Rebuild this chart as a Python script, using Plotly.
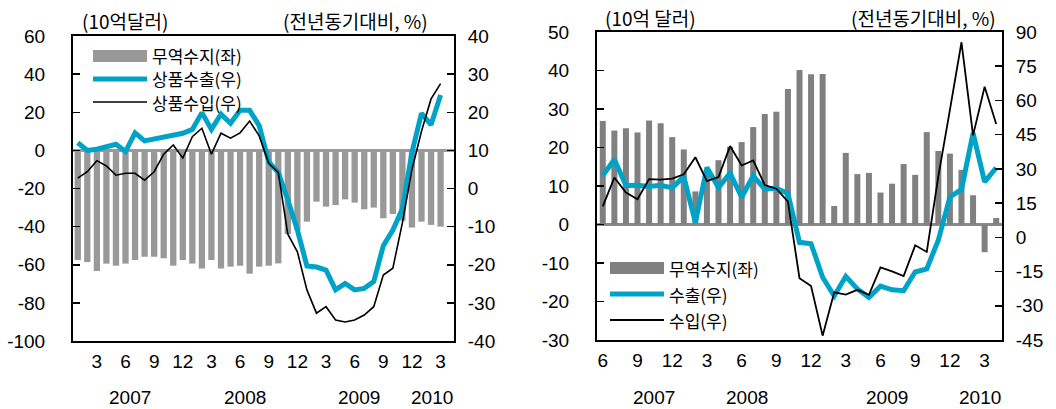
import plotly.graph_objects as go

# The page body margin is removed after plotting (post_script), so the figure fills the window.
OFF = 0
W, H = 1056 - OFF, 409 - OFF

# ---------------- Left panel data (Jan 2007 - Mar 2010) ----------------
us_periods = [f"{y}-{m:02d}" for y in (2007, 2008, 2009, 2010) for m in range(1, 13)][:39]
us_balance = [-57.5, -58.6, -63.3, -59.4, -60.5, -59.4, -57.5, -55.8, -55.8, -56.6,
              -60.5, -57.5, -59.4, -62.0, -57.5, -62.0, -61.0, -60.5, -64.7, -61.0,
              -60.5, -59.3, -43.9, -41.8, -37.4, -26.9, -29.5, -28.7, -25.7, -27.4,
              -30.9, -30.0, -35.6, -33.4, -36.9, -40.5, -37.4, -39.1, -40.0]
us_exports = [12.0, 10.0, 10.3, 11.0, 11.6, 9.7, 14.6, 12.5, 13.0, 13.4,
              13.8, 14.5, 15.5, 19.9, 15.5, 19.5, 17.1, 20.5, 20.5, 16.5,
              7.0, 4.2, -3.0, -10.9, -20.3, -20.6, -21.4, -26.6, -24.9, -26.6,
              -26.2, -24.4, -15.0, -10.9, -5.3, 9.5, 19.7, 16.7, 24.5]
us_imports = [2.7, 4.4, 7.3, 5.9, 3.5, 4.0, 4.0, 2.2, 4.4, 9.0,
              11.4, 8.0, 13.6, 15.8, 9.0, 14.5, 13.2, 14.6, 17.7, 13.8,
              6.6, 4.2, -12.0, -16.6, -26.6, -32.7, -31.0, -34.5, -35.0, -34.5,
              -33.2, -31.0, -22.7, -20.9, -9.0, 5.0, 15.0, 23.5, 27.5]
us_tick_cats = ["2007-03", "2007-06", "2007-09", "2007-12", "2008-03", "2008-06", "2008-09",
                "2008-12", "2009-03", "2009-06", "2009-09", "2009-12", "2010-03"]
us_tick_text = ["3", "6", "9", "12", "3", "6", "9", "12", "3", "6", "9", "12", "3"]
us_years = ["2007", "2008", "2009", "2010"]
us_left_ticks = [60, 40, 20, 0, -20, -40, -60, -80, -100]
us_right_ticks = [40, 30, 20, 10, 0, -10, -20, -30, -40]

# ---------------- Right panel data (Jun 2007 - Apr 2010) ----------------
cn_periods = [f"{y}-{m:02d}" for y in (2007, 2008, 2009, 2010) for m in range(1, 13)][5:40]
cn_balance = [26.9, 24.4, 25.0, 23.9, 27.0, 26.3, 22.7,
              19.5, 8.6, 13.4, 16.7, 20.2, 21.4, 25.3, 28.7, 29.3, 35.2, 40.1, 39.0,
              39.1, 4.8, 18.6, 13.1, 13.4, 8.3, 10.6, 15.7, 12.9, 24.0, 19.1, 18.4,
              14.2, 7.6, -7.2, 1.7]
cn_exports = [27.1, 34.1, 22.7, 22.8, 22.3, 22.8, 21.7,
              26.6, 6.5, 30.6, 21.8, 28.1, 17.6, 26.9, 21.1, 21.5, 19.2, -2.2, -2.8,
              -17.5, -25.7, -17.1, -22.6, -26.4, -21.4, -23.0, -23.4, -15.2, -13.8, -1.2, 17.7,
              21.0, 45.7, 24.3, 30.5]
cn_imports = [13.6, 26.2, 19.6, 16.7, 25.5, 25.3, 25.7,
              27.6, 35.1, 24.6, 26.4, 40.0, 31.5, 33.7, 22.9, 21.3, 15.6, -17.9, -21.3,
              -43.1, -24.1, -25.1, -23.0, -25.2, -13.2, -14.9, -17.0, -3.5, -6.4, 26.7, 55.9,
              85.5, 44.7, 66.0, 49.7]
cn_tick_cats = ["2007-06", "2007-09", "2007-12", "2008-03", "2008-06", "2008-09", "2008-12",
                "2009-03", "2009-06", "2009-09", "2009-12", "2010-03"]
cn_tick_text = ["6", "9", "12", "3", "6", "9", "12", "3", "6", "9", "12", "3"]
cn_years = ["2007", "2008", "2009", "2010"]
cn_left_ticks = [50, 40, 30, 20, 10, 0, -10, -20, -30]
cn_right_ticks = [90, 75, 60, 45, 30, 15, 0, -15, -30, -45]

# ---------------- styles / layout helpers ----------------
BLUE = "#00A3C8"
NUM_FONT = dict(family="Liberation Sans, Arial, sans-serif", size=19, color="black")
KR_FONT = dict(family="Noto Sans CJK KR, sans-serif", size=17, color="black")
KR_TITLE = dict(family="Noto Sans CJK KR, sans-serif", size=19, color="black")


def px_x(p):
    return (p - OFF) / W


def px_y(p):
    return 1 - (p - OFF) / H


L_BOX = (73, 454, 36, 341)     # left, right, top, bottom (window px)
R_BOX = (597, 1002, 32, 340)

fig = go.Figure()

# Left panel
fig.add_trace(go.Bar(x=us_periods, y=us_balance, xaxis="x", yaxis="y",
                     marker=dict(color="#999999", line=dict(width=0)), width=0.66,
                     name="무역수지(좌)", showlegend=False))
fig.add_trace(go.Scatter(x=us_periods, y=us_exports, xaxis="x", yaxis="y2", mode="lines",
                         line=dict(color=BLUE, width=5), name="상품수출(우)", showlegend=False))
fig.add_trace(go.Scatter(x=us_periods, y=us_imports, xaxis="x", yaxis="y2", mode="lines",
                         line=dict(color="black", width=1.6), name="상품수입(우)", showlegend=False))

# Right panel
fig.add_trace(go.Bar(x=cn_periods, y=cn_balance, xaxis="x2", yaxis="y3",
                     marker=dict(color="#808080", line=dict(width=0)), width=0.52,
                     name="무역수지(좌)", showlegend=False))
fig.add_trace(go.Scatter(x=cn_periods, y=cn_exports, xaxis="x2", yaxis="y4", mode="lines",
                         line=dict(color=BLUE, width=5), name="수출(우)", showlegend=False))
fig.add_trace(go.Scatter(x=cn_periods, y=cn_imports, xaxis="x2", yaxis="y4", mode="lines",
                         line=dict(color="black", width=1.8), name="수입(우)", showlegend=False))

axis_common = dict(showgrid=False, showline=True, linecolor="black", linewidth=2,
                   tickfont=NUM_FONT, fixedrange=True, automargin=False)
yin = dict(ticks="inside", ticklen=7, tickwidth=1.5, tickcolor="black")


def yticks(vals):
    return dict(tickmode="array", tickvals=vals, ticktext=[str(v) for v in vals])


fig.update_layout(
    width=W, height=H, margin=dict(l=0, r=0, t=0, b=0, pad=0), autosize=False,
    paper_bgcolor="white", plot_bgcolor="white", bargap=0.3, hovermode=False,
    xaxis=dict(domain=[px_x(L_BOX[0]), px_x(L_BOX[1])], anchor="y", type="category",
               tickmode="array", tickvals=us_tick_cats, ticktext=us_tick_text,
               ticks="", mirror=True, ticklabelstandoff=2, **axis_common),
    yaxis=dict(domain=[px_y(L_BOX[3]), px_y(L_BOX[2])], anchor="x", range=[-100, 60],
               zeroline=True, zerolinecolor="#9a9a9a", zerolinewidth=2.5,
               ticklabelstandoff=22, **yticks(us_left_ticks), **yin, **axis_common),
    yaxis2=dict(overlaying="y", anchor="x", side="right", range=[-40, 40],
                zeroline=False, ticklabelstandoff=8, **yticks(us_right_ticks), **yin, **axis_common),
    xaxis2=dict(domain=[px_x(R_BOX[0]), px_x(R_BOX[1])], anchor="y3", type="category",
                tickmode="array", tickvals=cn_tick_cats, ticktext=cn_tick_text,
                ticks="", mirror=True, ticklabelstandoff=2, **axis_common),
    yaxis3=dict(domain=[px_y(R_BOX[3]), px_y(R_BOX[2])], anchor="x2", range=[-30, 50],
                zeroline=True, zerolinecolor="#8a8a8a", zerolinewidth=2.5,
                ticklabelstandoff=22, **yticks(cn_left_ticks), **yin, **axis_common),
    yaxis4=dict(overlaying="y3", anchor="x2", side="right", range=[-45, 90],
                zeroline=False, ticklabelstandoff=8, **yticks(cn_right_ticks), **yin, **axis_common),
)

annotations = []
shapes = []

# unit titles
for text, cx, cy in [("(10억달러)", 125, 21), ("(전년동기대비, %)", 355, 21),
                     ("(10억 달러)", 650, 17), ("(전년동기대비, %)", 923, 17)]:
    annotations.append(dict(text=text, x=px_x(cx), y=px_y(cy), xref="paper", yref="paper",
                            showarrow=False, xanchor="center", yanchor="middle", font=KR_TITLE,
                            borderpad=0))

# year labels (category-index positions)
for text, pos in zip(us_years, [5.5, 17.5, 29.5, 37.1]):
    annotations.append(dict(text=text, x=pos, y=px_y(397), xref="x", yref="paper",
                            showarrow=False, xanchor="center", yanchor="middle", font=NUM_FONT,
                            borderpad=0))
for text, pos in zip(cn_years, [4.4, 12.5, 24.6, 32.6]):
    annotations.append(dict(text=text, x=pos, y=px_y(397), xref="x2", yref="paper",
                            showarrow=False, xanchor="center", yanchor="middle", font=NUM_FONT,
                            borderpad=0))


# legends (manual, to match long swatches)
def legend(x0, x1, ys, labels, bar_color, black_w):
    shapes.append(dict(type="rect", xref="paper", yref="paper", x0=px_x(x0), x1=px_x(x1),
                       y0=px_y(ys[0] + 6), y1=px_y(ys[0] - 6), fillcolor=bar_color,
                       line=dict(width=0)))
    shapes.append(dict(type="line", xref="paper", yref="paper", x0=px_x(x0), x1=px_x(x1),
                       y0=px_y(ys[1]), y1=px_y(ys[1]), line=dict(color=BLUE, width=5)))
    shapes.append(dict(type="line", xref="paper", yref="paper", x0=px_x(x0), x1=px_x(x1),
                       y0=px_y(ys[2]), y1=px_y(ys[2]), line=dict(color="black", width=black_w)))
    for lab, yy in zip(labels, ys):
        annotations.append(dict(text=lab, x=px_x(x1 + 4), y=px_y(yy), xref="paper", yref="paper",
                                showarrow=False, xanchor="left", yanchor="middle", font=KR_FONT,
                                borderpad=0))


legend(93, 147, [56, 79, 102], ["무역수지(좌)", "상품수출(우)", "상품수입(우)"], "#999999", 1.6)
legend(610, 664, [268, 294, 320], ["무역수지(좌)", "수출(우)", "수입(우)"], "#808080", 1.8)

fig.update_layout(annotations=annotations, shapes=shapes)
fig.write_html("out.html", config={"displayModeBar": False, "staticPlot": True},
               post_script="document.body.style.margin='0px';")
